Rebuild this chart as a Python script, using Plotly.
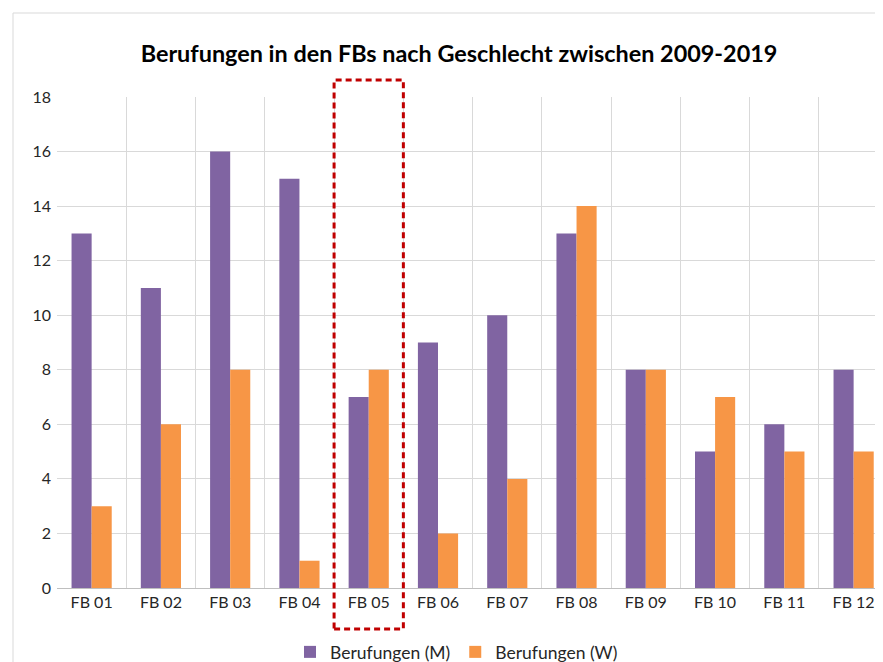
import plotly.graph_objects as go

categories = ["FB 01", "FB 02", "FB 03", "FB 04", "FB 05", "FB 06",
              "FB 07", "FB 08", "FB 09", "FB 10", "FB 11", "FB 12"]
men = [13, 11, 16, 15, 7, 9, 10, 13, 8, 5, 6, 8]
women = [3, 6, 8, 1, 8, 2, 4, 14, 8, 7, 5, 5]
y_ticks = [0, 2, 4, 6, 8, 10, 12, 14, 16, 18]

FONT = "Lato"

# page body adds an 8px offset; work in figure coordinates = reference - 8
W, H = 875, 654
L, T, B = 49, 89, 74
PW, PH = W - L, H - T - B  # 826, 491


def px(x):
    return (x - 8 - L) / PW


def py(y):
    return (H - B - (y - 8)) / PH


fig = go.Figure()
fig.add_trace(go.Bar(x=categories, y=men, name="Berufungen (M)",
                     marker=dict(color="#8064A2", line=dict(width=0))))
fig.add_trace(go.Bar(x=categories, y=women, name="Berufungen (W)",
                     marker=dict(color="#F79646", line=dict(width=0))))

fig.update_layout(
    width=W, height=H,
    margin=dict(l=L, r=0, t=T, b=B, autoexpand=False),
    paper_bgcolor="white", plot_bgcolor="white",
    barmode="group", bargap=0.42, bargroupgap=0,
    font=dict(family=FONT, color="#262626", size=16),
    title=dict(text="<b>Berufungen in den FBs nach Geschlecht zwischen 2009-2019</b>",
               x=451 / W, xanchor="center", y=1 - 46 / H, yanchor="middle",
               font=dict(family=FONT, size=23.4, color="#000000")),
    showlegend=True,
    legend=dict(orientation="h", xref="container", x=448.5 / W, xanchor="center",
                yref="container", y=1 - 644 / H, yanchor="middle",
                font=dict(family=FONT, size=17.5, color="#262626"),
                itemwidth=30, traceorder="normal"),
    xaxis=dict(type="category", range=[-0.5, 11.424], tickson="boundaries",
               showgrid=True, gridcolor="#d9d9d9", gridwidth=1,
               showline=True, linecolor="#bfbfbf", linewidth=1,
               ticks="", ticklen=0, tickfont=dict(size=16, color="#262626"),
               zeroline=False),
    yaxis=dict(range=[0, 18], tickvals=y_ticks, showgrid=True, gridcolor="#d9d9d9",
               gridwidth=1, zeroline=False, showline=False, ticks="",
               tickfont=dict(size=16, color="#262626"), ticklabelstandoff=5),
)

# chart area border (top/left visible)
fig.add_shape(type="line", xref="paper", yref="paper",
              x0=px(13), x1=1.05, y0=py(13), y1=py(13),
              line=dict(color="#d9d9d9", width=1))
fig.add_shape(type="line", xref="paper", yref="paper",
              x0=px(13), x1=px(13), y0=py(13), y1=py(680),
              line=dict(color="#d9d9d9", width=1))

# highlight box around FB 05
fig.add_shape(type="rect", xref="x", yref="paper",
              x0=3.5, x1=4.5, y0=py(629), y1=py(80),
              line=dict(color="#C00000", width=3, dash="6px,4px"),
              fillcolor="rgba(0,0,0,0)", layer="above")

fig.write_html("out.html")
